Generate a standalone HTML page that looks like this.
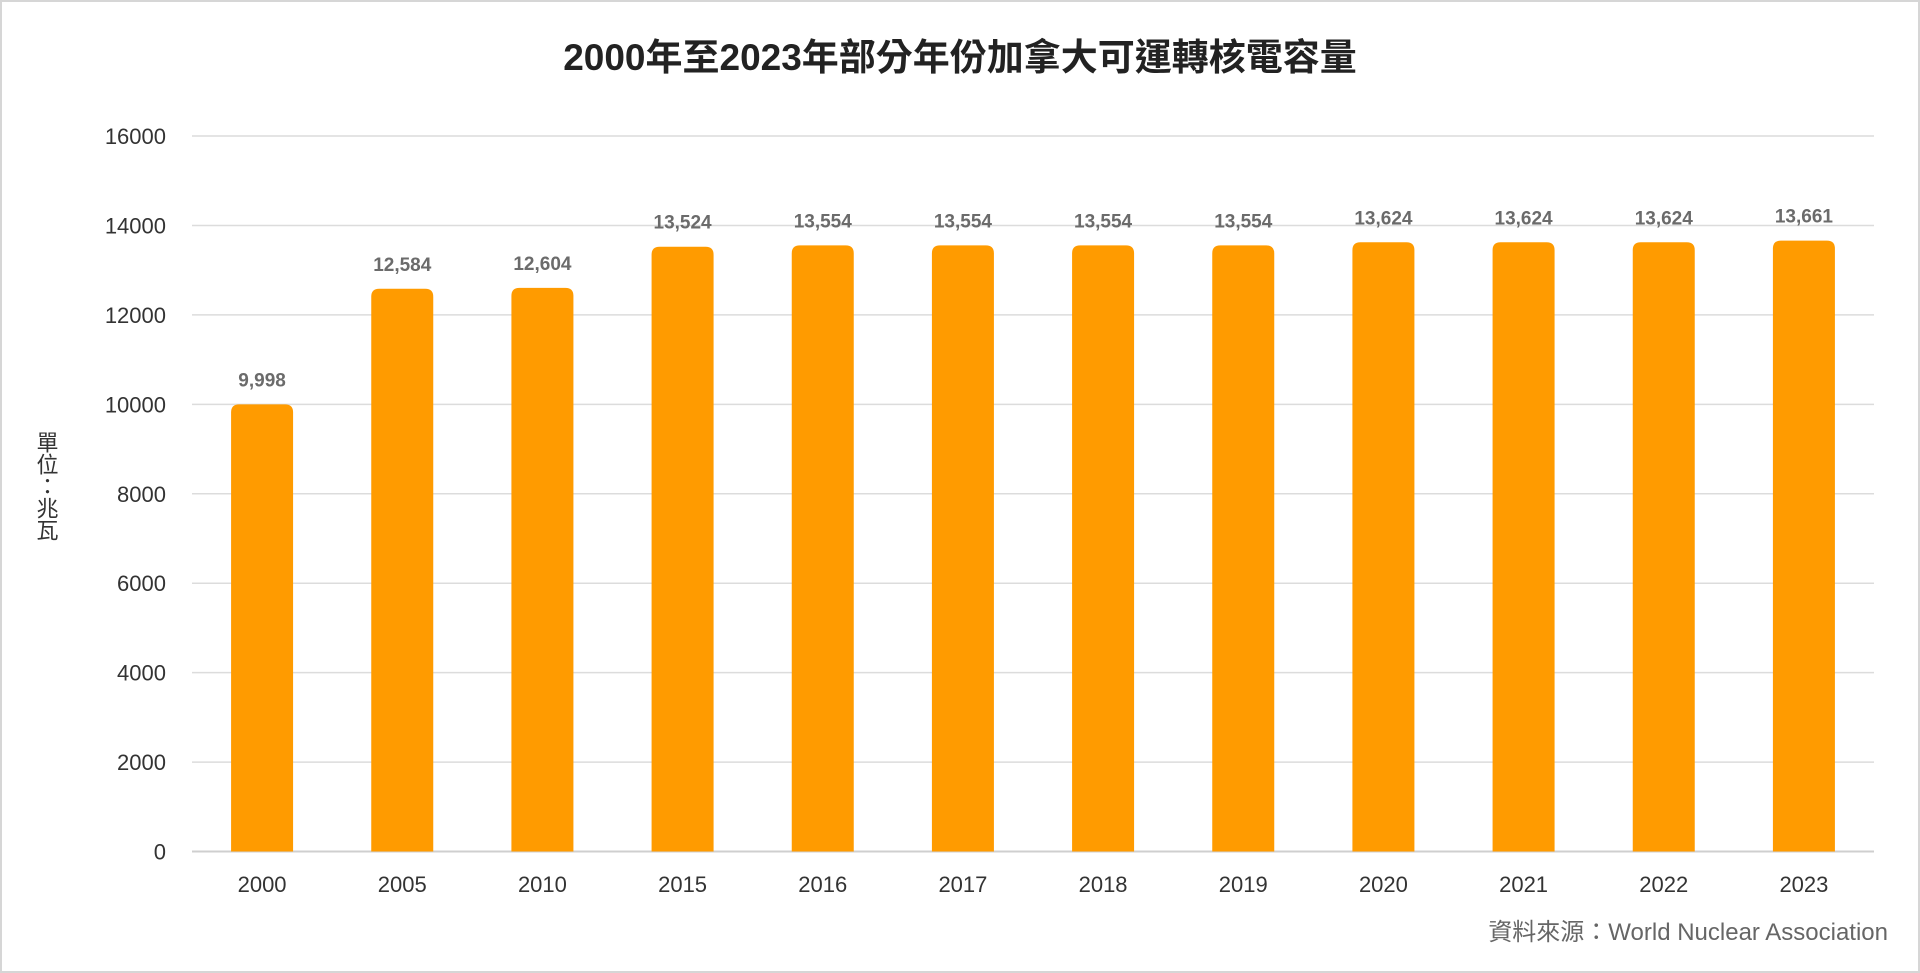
<!DOCTYPE html>
<html><head><meta charset="utf-8"><style>
html,body{margin:0;padding:0;background:#fff;}
body{width:1920px;height:973px;overflow:hidden;position:relative;font-family:"Liberation Sans","Noto Sans CJK TC",sans-serif;}
#frame{position:absolute;left:0;top:0;width:1916px;height:969px;border:2px solid #d6d6d6;}
</style></head><body>
<div id="frame"></div>
<svg id="chart" width="1920" height="973" style="position:absolute;left:0;top:0">
<text x="960" y="70" text-anchor="middle" font-size="37" font-weight="bold" fill="#222" font-family="Liberation Sans, Noto Sans CJK TC, sans-serif">2000年至2023年部分年份加拿大可運轉核電容量</text>
<text x="46" y="486" font-size="22" fill="#333" writing-mode="tb" text-anchor="middle" style="writing-mode:vertical-rl;text-orientation:upright" font-family="Liberation Sans, Noto Sans CJK TC, sans-serif">單位：兆瓦</text>
<text x="1888" y="940" text-anchor="end" font-size="24" fill="#666" font-family="Liberation Sans, Noto Sans CJK TC, sans-serif">資料來源：World Nuclear Association</text>
<g id="grid"></g><g id="bars"></g><g id="labels"></g>
</svg>
<script>
const categories=["2000","2005","2010","2015","2016","2017","2018","2019","2020","2021","2022","2023"];
const values=[9998,12584,12604,13524,13554,13554,13554,13554,13624,13624,13624,13661];
const valueLabels=["9,998","12,584","12,604","13,524","13,554","13,554","13,554","13,554","13,624","13,624","13,624","13,661"];
const yTicks=[0,2000,4000,6000,8000,10000,12000,14000,16000];
const NS="http://www.w3.org/2000/svg";
const L=192,R=1874,T=136,B=851.5,YMAX=16000;
const y=v=>B-(v/YMAX)*(B-T);
const band=(R-L)/categories.length;
const xc=i=>L+band*(i+0.5);
const bw=62;
const grid=document.getElementById('grid'),bars=document.getElementById('bars'),labels=document.getElementById('labels');
function mk(tag,attrs,parent,text){const e=document.createElementNS(NS,tag);for(const k in attrs)e.setAttribute(k,attrs[k]);if(text!==undefined)e.textContent=text;parent.appendChild(e);return e;}
yTicks.forEach(t=>{
 const ln=mk('line',{x1:L,x2:R,y1:y(t),y2:y(t),stroke:t===0?'#cfcfcf':'#dcdcdc','stroke-width':t===0?2:1.5},grid);
 
 
 const tx=mk('text',{x:166,y:y(t)+8,'text-anchor':'end','font-size':22,fill:'#333'},grid,String(t));
 
 
});
categories.forEach((c,i)=>{
 const x0=xc(i)-bw/2,yt=y(values[i]),r=8;
 const p=mk('path',{d:`M${x0},${B} L${x0},${yt+r} Q${x0},${yt} ${x0+r},${yt} L${x0+bw-r},${yt} Q${x0+bw},${yt} ${x0+bw},${yt+r} L${x0+bw},${B} Z`,fill:'#FF9B00'},bars);
 
 
 const v=mk('text',{x:xc(i),y:yt-18,'text-anchor':'middle','font-size':19,'font-weight':'bold',fill:'#6b6b6b'},labels,valueLabels[i]);
 
 
 const xl=mk('text',{x:xc(i),y:892,'text-anchor':'middle','font-size':22,fill:'#333'},labels,c);
 
 
});
</script>
</body></html>
